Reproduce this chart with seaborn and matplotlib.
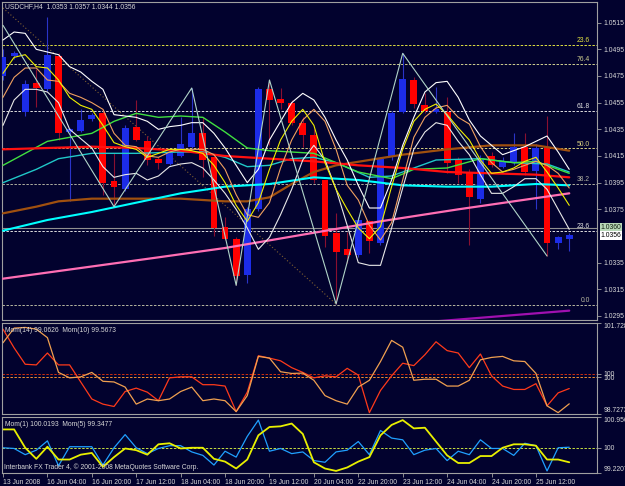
import numpy as np
import pandas as pd
import seaborn as sns
import matplotlib.pyplot as plt
from matplotlib import transforms

W, H = 625, 486
BG = '#02022e'
GRID = '#a0a0a0'
TXT = '#d8d8d8'

# ---- USDCHF H4 candles, bars 0..51 ----
opens  = [1.0475, 1.0490, 1.0448, 1.0470, 1.0465, 1.0490, 1.0433, 1.0434, 1.0443, 1.0447,
          1.0396, 1.0390, 1.0437, 1.0426, 1.0413, 1.0409, 1.0415, 1.0422, 1.0432, 1.0414,
          1.0362, 1.0353, 1.0326, 1.0375, 1.0465, 1.0458, 1.0455, 1.0440, 1.0431, 1.0397,
          1.0357, 1.0345, 1.0341, 1.0366, 1.0350, 1.0414, 1.0448, 1.0472, 1.0453, 1.0448,
          1.0448, 1.0412, 1.0402, 1.0383, 1.0415, 1.0407, 1.0410, 1.0422, 1.0404, 1.0422,
          1.0350, 1.0353]
highs  = [1.0495, 1.0494, 1.0472, 1.0480, 1.0519, 1.0492, 1.0436, 1.0450, 1.0447, 1.0450,
          1.0417, 1.0438, 1.0457, 1.0430, 1.0414, 1.0420, 1.0444, 1.0466, 1.0444, 1.0415,
          1.0369, 1.0354, 1.0377, 1.0467, 1.0472, 1.0466, 1.0457, 1.0444, 1.0435, 1.0397,
          1.0372, 1.0358, 1.0369, 1.0367, 1.0414, 1.0449, 1.0492, 1.0474, 1.0462, 1.0467,
          1.0459, 1.0414, 1.0405, 1.0416, 1.0418, 1.0414, 1.0432, 1.0432, 1.0424, 1.0445,
          1.0355, 1.0357]
lows   = [1.0472, 1.0488, 1.0445, 1.0452, 1.0464, 1.0427, 1.0381, 1.0433, 1.0441, 1.0386,
          1.0377, 1.0389, 1.0426, 1.0408, 1.0405, 1.0408, 1.0414, 1.0421, 1.0399, 1.0355,
          1.0352, 1.0318, 1.0320, 1.0374, 1.0423, 1.0450, 1.0438, 1.0422, 1.0395, 1.0347,
          1.0304, 1.0335, 1.0339, 1.0342, 1.0348, 1.0412, 1.0447, 1.0451, 1.0447, 1.0447,
          1.0402, 1.0395, 1.0348, 1.0380, 1.0407, 1.0406, 1.0408, 1.0401, 1.0375, 1.0340,
          1.0345, 1.0344]
closes = [1.0489, 1.0492, 1.0469, 1.0466, 1.0491, 1.0432, 1.0435, 1.0442, 1.0446, 1.0395,
          1.0392, 1.0436, 1.0427, 1.0412, 1.0410, 1.0417, 1.0424, 1.0432, 1.0412, 1.0361,
          1.0353, 1.0325, 1.0375, 1.0465, 1.0457, 1.0455, 1.0440, 1.0431, 1.0397, 1.0355,
          1.0343, 1.0341, 1.0367, 1.0351, 1.0413, 1.0447, 1.0473, 1.0454, 1.0449, 1.0450,
          1.0410, 1.0401, 1.0384, 1.0412, 1.0408, 1.0411, 1.0422, 1.0403, 1.0421, 1.0350,
          1.0354, 1.0356]

# envelope-style lines, one value per bar
white_upper = [1.0502, 1.0508, 1.0507, 1.0495, 1.0493, 1.0491, 1.0482, 1.0478, 1.0471, 1.0465,
               1.0446, 1.0445, 1.0444, 1.0441, 1.0435, 1.0437, 1.0438, 1.0440, 1.0440, 1.0432,
               1.0421, 1.0408, 1.0395, 1.0405, 1.0427, 1.0441, 1.0455, 1.0462, 1.0457, 1.0444,
               1.0427, 1.0412, 1.0393, 1.0376, 1.0376, 1.0397, 1.0423, 1.0444, 1.0463, 1.0470,
               1.0471, 1.0459, 1.0442, 1.0430, 1.0423, 1.0416, 1.0419, 1.0422, 1.0426, 1.0430,
               1.0418, 1.0405]
white_lower = [1.0438, 1.0457, 1.0465, 1.0465, 1.0463, 1.0455, 1.0435, 1.0428, 1.0421, 1.0407,
               1.0399, 1.0401, 1.0402, 1.0397, 1.0400, 1.0407, 1.0409, 1.0410, 1.0406, 1.0397,
               1.0387, 1.0375, 1.0361, 1.0345, 1.0354, 1.0371, 1.0390, 1.0412, 1.0423, 1.0412,
               1.0390, 1.0363, 1.0335, 1.0333, 1.0333, 1.0361, 1.0391, 1.0420, 1.0433, 1.0440,
               1.0438, 1.0426, 1.0416, 1.0401, 1.0387, 1.0387, 1.0392, 1.0398, 1.0398, 1.0390,
               1.0375, 1.0360]
yellow_line = [1.0477, 1.0489, 1.0491, 1.0482, 1.0481, 1.0472, 1.0459, 1.0453, 1.0450, 1.0438,
               1.0425, 1.0422, 1.0420, 1.0414, 1.0417, 1.0420, 1.0420, 1.0419, 1.0417, 1.0408,
               1.0395, 1.0378, 1.0366, 1.0380, 1.0405, 1.0427, 1.0441, 1.0450, 1.0438, 1.0410,
               1.0390, 1.0375, 1.0361, 1.0353, 1.0362, 1.0392, 1.0420, 1.0441, 1.0450, 1.0454,
               1.0446, 1.0436, 1.0427, 1.0412, 1.0402, 1.0403, 1.0406, 1.0411, 1.0414, 1.0403,
               1.0391, 1.0378]
orange_line = [1.0459, 1.0474, 1.0481, 1.0481, 1.0472, 1.0471, 1.0462, 1.0459, 1.0455, 1.0450,
               1.0432, 1.0423, 1.0422, 1.0415, 1.0414, 1.0418, 1.0420, 1.0420, 1.0420, 1.0416,
               1.0405, 1.0386, 1.0371, 1.0369, 1.0380, 1.0406, 1.0427, 1.0442, 1.0450, 1.0441,
               1.0420, 1.0393, 1.0382, 1.0363, 1.0352, 1.0365, 1.0397, 1.0429, 1.0444, 1.0451,
               1.0453, 1.0444, 1.0439, 1.0422, 1.0410, 1.0403, 1.0405, 1.0408, 1.0411, 1.0408,
               1.0402, 1.0391]

# moving averages (bar, price) vertices
red_ma_bars = [0, 4, 8, 12, 16, 20, 24, 28, 32, 36, 40, 44, 48, 51]
red_ma = [1.0420, 1.0421, 1.0422, 1.0421, 1.0419, 1.0415, 1.0413, 1.0411, 1.0408, 1.0406,
          1.0403, 1.0402, 1.0401, 1.0399]
green_ma_bars = [0, 4, 8, 10, 12, 14, 16, 18, 20, 22, 24, 28, 32, 35, 37, 40, 43, 46, 48, 51]
green_ma = [1.0408, 1.0426, 1.0432, 1.0441, 1.0447, 1.0444, 1.0445, 1.0444, 1.0433, 1.0421,
            1.0419, 1.0417, 1.0403, 1.0398, 1.0405, 1.0406, 1.0413, 1.0410, 1.0411, 1.0402]
cyan_ma_bars = [0, 3, 5, 8, 12, 16, 18, 20, 22, 24, 26, 28, 30, 33, 35, 37, 39, 43, 46, 49, 51]
cyan_ma = [1.0395, 1.0405, 1.0413, 1.0417, 1.0417, 1.0418, 1.0418, 1.0414, 1.0407, 1.0408,
           1.0413, 1.0414, 1.0410, 1.0399, 1.0400, 1.0406, 1.0412, 1.0413, 1.0410, 1.0409, 1.0403]
aqua_ma_bars = [0, 4, 8, 12, 16, 20, 24, 28, 32, 36, 40, 44, 48, 51]
aqua_ma = [1.0359, 1.0367, 1.0373, 1.0380, 1.0387, 1.0392, 1.0394, 1.0399, 1.0397, 1.0393,
           1.0392, 1.0392, 1.0394, 1.0393]
brown_ma_bars = [0, 3, 5, 8, 12, 16, 20, 22, 24, 26, 28, 30, 33, 36, 40, 44, 46, 48, 51]
brown_ma = [1.0372, 1.0377, 1.0381, 1.0383, 1.0383, 1.0383, 1.0381, 1.0381, 1.0384, 1.0394,
            1.0403, 1.0408, 1.0412, 1.0416, 1.0420, 1.0423, 1.0423, 1.0423, 1.0419]
pink_ma_bars = [0, 7, 14, 20, 27, 34, 41, 46, 51]
pink_ma = [1.0323, 1.0331, 1.0339, 1.0346, 1.0356, 1.0366, 1.0375, 1.0381, 1.0387]
purple_ma_bars = [36, 51]
purple_ma = [1.0289, 1.0299]

zigzag_bars = [0, 10, 17, 21, 24, 30, 36, 49]
zigzag = [1.0513, 1.0377, 1.0466, 1.0318, 1.0472, 1.0304, 1.0492, 1.0340]
trend_bars = [0, 30]
trend = [1.0526, 1.0304]

fib_levels = [1.04985, 1.0484, 1.04488, 1.04208, 1.0394, 1.03588, 1.03033]
fib_labels = ['23.6', '76.4', '61.8', '50.0', '38.2', '23.6', '0.0']
fib_colors = ['#e0e040', '#d0d090', '#e0e0e0', '#d8d080', '#b0b0a0', '#e0e0e0', '#b8b8a0']

ask_price = 1.0361
main_ticks = [1.0515, 1.0495, 1.0475, 1.0455, 1.0435, 1.0415, 1.0395, 1.0375,
              1.0335, 1.0315, 1.0295]

# ---- momentum panels ----
mom14 = [101.076, 101.560, 101.582, 101.526, 101.245, 100.099, 99.919, 99.952, 100.099, 99.806,
         99.784, 99.615, 99.053, 99.222, 99.166, 99.222, 99.469, 99.615, 99.166, 99.222,
         99.166, 98.806, 99.334, 100.627, 100.571, 100.121, 100.065, 100.076, 99.840, 99.334,
         99.166, 99.053, 99.615, 99.840, 100.458, 101.155, 100.930, 99.840, 99.874, 99.874,
         99.649, 99.649, 99.840, 100.514, 100.593, 100.627, 100.481, 100.458, 100.065, 98.997,
         98.772, 99.063]
mom10 = [101.526, 100.908, 100.368, 100.346, 100.739, 100.346, 100.346, 99.784, 99.222, 99.053,
         98.975, 99.469, 99.581, 99.447, 99.166, 99.919, 99.952, 99.952, 99.694, 99.694,
         99.649, 98.806, 99.447, 100.649, 100.571, 100.481, 100.256, 100.099, 99.919, 99.986,
         99.952, 100.233, 100.009, 98.772, 99.503, 99.986, 100.402, 100.323, 100.683, 101.110,
         100.818, 100.739, 100.256, 100.705, 99.986, 99.649, 99.537, 99.537, 99.728, 98.997,
         99.424, 99.567]
mom5 = [100.571, 100.571, 100.003, 99.660, 100.035, 99.638, 99.638, 99.789, 99.842, 99.413,
        99.713, 99.981, 99.928, 99.789, 100.110, 100.142, 99.981, 100.003, 100.003, 99.660,
        99.574, 99.360, 99.638, 100.388, 100.646, 100.667, 100.753, 100.431, 99.553, 99.360,
        99.285, 99.392, 99.574, 99.713, 100.388, 100.710, 100.860, 100.603, 100.624, 100.196,
        99.767, 99.531, 99.531, 99.746, 99.746, 100.003, 100.110, 100.110, 100.067, 99.638,
        99.638, 99.553]
mom1 = [100.003, 99.981, 99.789, 99.928, 100.217, 99.445, 100.035, 100.035, 100.035, 99.467,
        100.003, 100.410, 100.003, 99.821, 99.981, 100.067, 100.067, 99.874, 99.767, 99.467,
        99.896, 99.713, 100.356, 100.860, 99.896, 99.981, 99.821, 99.874, 99.606, 99.553,
        99.874, 99.928, 100.196, 99.789, 100.538, 100.303, 100.249, 99.789, 99.928, 99.981,
        99.606, 99.896, 99.789, 100.249, 99.981, 99.981, 99.767, 100.142, 100.067, 99.285,
        100.003, 100.019]
m1_range = (98.7273, 101.7283)
m2_range = (99.2207, 100.9561)

date_ticks = [0, 4, 8, 12, 16, 20, 24, 28, 32, 36, 40, 44, 48]
date_labels = ['13 Jun 2008', '16 Jun 04:00', '16 Jun 20:00', '17 Jun 12:00', '18 Jun 04:00',
               '18 Jun 20:00', '19 Jun 12:00', '20 Jun 04:00', '22 Jun 20:00', '23 Jun 12:00',
               '24 Jun 04:00', '24 Jun 20:00', '25 Jun 12:00']

sns.set_theme(style='dark', rc={'axes.facecolor': BG, 'figure.facecolor': BG,
                                'axes.edgecolor': GRID, 'axes.linewidth': 0.8})
plt.rcParams['font.family'] = ['Liberation Sans', 'DejaVu Sans']
FS = 4.9

fig = plt.figure(figsize=(W / 100, H / 100), dpi=100)


def box(x0, y0, x1, y1):
    return [x0 / W, 1 - y1 / H, (x1 - x0) / W, (y1 - y0) / H]


ax = fig.add_axes(box(2, 2, 597, 320))
am1 = fig.add_axes(box(2, 323, 597, 414), sharex=ax)
am2 = fig.add_axes(box(2, 417, 597, 473), sharex=ax)

bars = np.arange(len(opens))
o, h, l, c = map(np.array, (opens, highs, lows, closes))
up = c >= o

# candles
ax.vlines(bars[up], l[up], h[up], color='#2a34c8', lw=0.8, zorder=2)
ax.vlines(bars[~up], l[~up], h[~up], color='#8a1030', lw=0.8, zorder=2)
body_lo = np.minimum(o, c)
body_h = np.maximum(np.abs(c - o), 0.00008)
ax.bar(bars[up], body_h[up], bottom=body_lo[up], width=0.62, color='#1c2ce8',
       edgecolor='none', linewidth=0, zorder=3)
ax.bar(bars[~up], body_h[~up], bottom=body_lo[~up], width=0.62, color='#ff0000',
       edgecolor='none', linewidth=0, zorder=3)

# fibo levels
dash = (0, (2.5, 1.6))
lbl_tr = transforms.blended_transform_factory(ax.transAxes, ax.transData)
for lv, lb, col in zip(fib_levels, fib_labels, fib_colors):
    ax.axhline(lv, color=col, lw=0.7, ls=dash, zorder=1)
    ax.text(0.988, lv + 0.00005, lb, color=col, fontsize=FS, ha='right', va='bottom',
            transform=lbl_tr)
ax.axhline(ask_price, color='#909090', lw=0.8, zorder=1)

line_specs = [
    (pink_ma_bars, pink_ma, '#ff6eb4', 1.6),
    (purple_ma_bars, purple_ma, '#a010b0', 1.6),
    (brown_ma_bars, brown_ma, '#a0500f', 1.6),
    (aqua_ma_bars, aqua_ma, '#00ffff', 1.5),
    (cyan_ma_bars, cyan_ma, '#20c8c8', 1.0),
    (green_ma_bars, green_ma, '#40e040', 1.0),
    (red_ma_bars, red_ma, '#ff1010', 1.6),
]
for xb, yv, col, lw in line_specs:
    sns.lineplot(x=xb, y=yv, ax=ax, color=col, lw=lw, legend=False, zorder=4)

for yv, col in [(white_lower, '#e8e8e8'), (orange_line, '#f0a060'),
                (yellow_line, '#f0f000'), (white_upper, '#ffffff')]:
    sns.lineplot(x=bars, y=yv, ax=ax, color=col, lw=0.8, legend=False, zorder=5)
sns.lineplot(x=zigzag_bars, y=zigzag, ax=ax, color='#b0d4c8', lw=0.8, legend=False, zorder=5)
ax.plot(trend_bars, trend, color='#806030', lw=0.8, ls=(0, (1, 2)), zorder=1)

ax.set_xlim(-0.09, 53.5)
ax.set_ylim(1.0292, 1.05305)

# momentum panels
am1.axhline(100.06, color='#d03010', lw=0.7, ls=dash)
am1.axhline(99.94, color='#f09030', lw=0.7, ls=dash)
sns.lineplot(x=bars, y=mom10, ax=am1, color='#ff3a1a', lw=0.9, legend=False)
sns.lineplot(x=bars, y=mom14, ax=am1, color='#f0a050', lw=0.9, legend=False)
am1.set_ylim(*m1_range)

am2.axhline(100, color='#c8e040', lw=0.7, ls=dash)
sns.lineplot(x=bars, y=mom1, ax=am2, color='#20a0ff', lw=0.9, legend=False)
sns.lineplot(x=bars, y=mom5, ax=am2, color='#e8f000', lw=1.3, legend=False)
am2.set_ylim(*m2_range)

for a in (ax, am1, am2):
    a.set_xlabel('')
    a.set_ylabel('')
    a.yaxis.tick_right()
    a.tick_params(axis='y', colors=GRID, labelcolor=TXT, labelsize=FS, length=3,
                  width=0.6, pad=1.5, right=True, left=False)
    a.tick_params(axis='x', bottom=False, labelbottom=False)
    for s in a.spines.values():
        s.set_color(GRID)
        s.set_linewidth(0.8)

ax.set_yticks(main_ticks, [f'{v:.4f}' for v in main_ticks])
am1.set_yticks([m1_range[1], 100.06, 99.94, m1_range[0]],
               [f'{m1_range[1]:.4f}', '100', '100', f'{m1_range[0]:.4f}'])
am2.set_yticks([m2_range[1], 100, m2_range[0]],
               [f'{m2_range[1]:.4f}', '100', f'{m2_range[0]:.4f}'])
for a in (am1, am2):
    labs = a.get_yticklabels()
    labs[0].set_va('top')
    labs[-1].set_va('bottom')

am2.tick_params(axis='x', bottom=True, labelbottom=True, colors=GRID, labelcolor=TXT,
                labelsize=FS, length=3, width=0.6, pad=1.5)
am2.set_xticks(date_ticks, date_labels)
for t in am2.get_xticklabels():
    t.set_ha('left')

# current price boxes
ax.text(1.006, ask_price, '1.0360', transform=lbl_tr, fontsize=FS, color='#102010',
        va='center', ha='left', bbox=dict(boxstyle='square,pad=0.15', fc='#b8d8b8', ec='none'))
ax.text(1.006, closes[-1] - 0.00004, f'{closes[-1]:.4f}', transform=lbl_tr, fontsize=FS,
        color='#000000', va='center', ha='left',
        bbox=dict(boxstyle='square,pad=0.15', fc='#ffffff', ec='none'))

# header texts
fig.text(5 / W, 1 - 7 / H, 'USDCHF,H4  1.0353 1.0357 1.0344 1.0356', color=TXT,
         fontsize=FS, va='center', ha='left')
fig.text(5 / W, 1 - 330 / H, 'Mom(14) 99.0626  Mom(10) 99.5673', color=TXT,
         fontsize=FS, va='center', ha='left')
fig.text(5 / W, 1 - 424 / H, 'Mom(1) 100.0193  Mom(5) 99.3477', color=TXT,
         fontsize=FS, va='center', ha='left')
fig.text(4 / W, 1 - 467 / H, 'Interbank FX Trader 4, \u00a9 2001-2008 MetaQuotes Software Corp.',
         color=TXT, fontsize=FS, va='center', ha='left')

fig.savefig('out.png', dpi=100, facecolor=BG)
